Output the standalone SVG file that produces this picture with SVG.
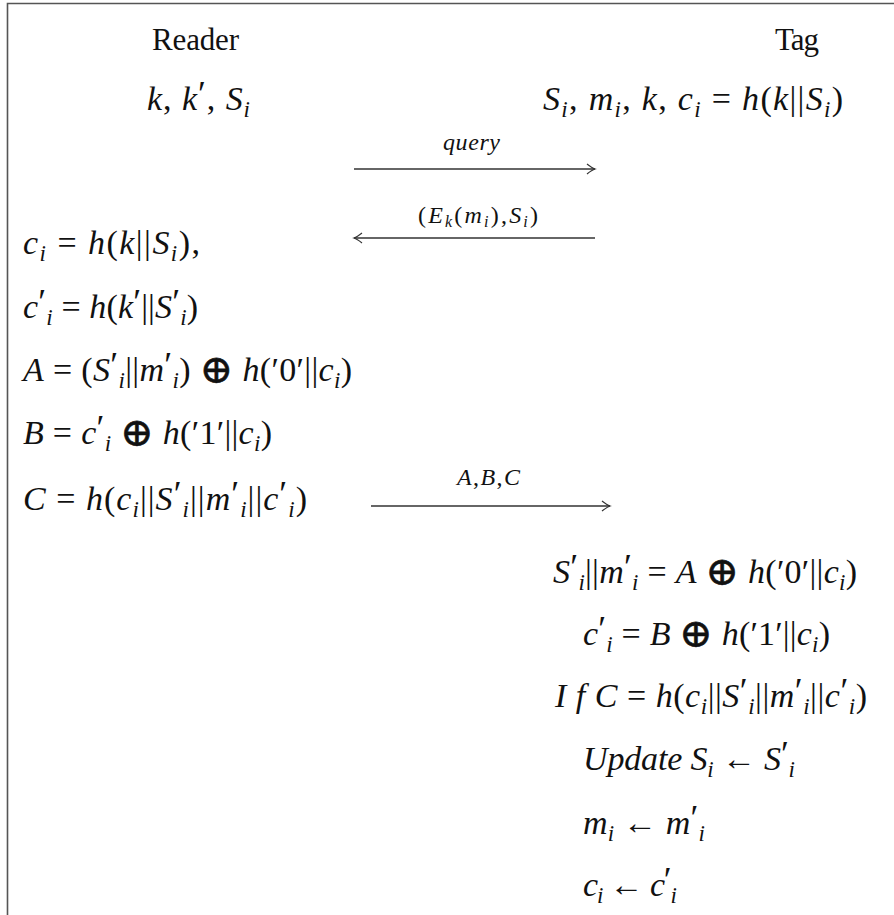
<svg xmlns="http://www.w3.org/2000/svg" width="894" height="915" viewBox="0 0 894 915">
<style>
.m{font-family:"Liberation Serif","DejaVu Serif",serif;font-size:34px;fill:#111}
.h{font-family:"Liberation Serif",serif;font-size:31px;fill:#111}
.lb{font-family:"Liberation Serif","DejaVu Serif",serif;font-size:24px;fill:#111}
.i{font-style:italic}
.sb{font-size:23px}
.ss{font-size:16px}
.pr{font-size:36px;font-style:normal}
.op{font-family:"DejaVu Serif",serif;font-size:40px;stroke:#111;stroke-width:0.6}
.ar{stroke:#333;stroke-width:1.3;fill:none}
.frame{stroke:#555;stroke-width:1.6;fill:none}
</style>
<defs>
<marker id="ah" viewBox="-10 -7 12 14" refX="0" refY="0" markerWidth="12" markerHeight="14" markerUnits="userSpaceOnUse" orient="auto">
<path d="M-8,-5 Q-3,-1 0,0 Q-3,1 -8,5" fill="none" stroke="#333" stroke-width="1.2"/>
</marker>
</defs>
<rect width="894" height="915" fill="#fff"/>
<path class="frame" d="M7.5,915 V3.5 H894"/>

<g id="reader-title"><text class="h" x="152" y="50" textLength="87">Reader</text></g>
<g id="tag-title"><text class="h" x="775" y="50" textLength="44">Tag</text></g>

<g id="reader-init"><text class="m" x="147" y="110" textLength="103"><tspan class="i">k</tspan>, <tspan class="i">k</tspan><tspan class="pr" dy="-4">′</tspan><tspan dy="4">, </tspan><tspan class="i">S</tspan><tspan class="i sb" dy="7">i</tspan></text></g>

<g id="tag-init"><text class="m" x="543" y="110" textLength="300"><tspan class="i">S</tspan><tspan class="i sb" dy="7">i</tspan><tspan dy="-7">, </tspan><tspan class="i">m</tspan><tspan class="i sb" dy="7">i</tspan><tspan dy="-7">, </tspan><tspan class="i">k</tspan>, <tspan class="i">c</tspan><tspan class="i sb" dy="7">i</tspan><tspan dy="-7"> = </tspan><tspan class="i">h</tspan>(<tspan class="i">k</tspan>||<tspan class="i">S</tspan><tspan class="i sb" dy="7">i</tspan><tspan dy="-7">)</tspan></text></g>

<g id="reader-ci"><text class="m" x="23" y="254" textLength="177"><tspan class="i">c</tspan><tspan class="i sb" dy="7">i</tspan><tspan dy="-7"> = </tspan><tspan class="i">h</tspan>(<tspan class="i">k</tspan>||<tspan class="i">S</tspan><tspan class="i sb" dy="7">i</tspan><tspan dy="-7">),</tspan></text></g>

<g id="reader-cpi"><text class="m" x="23" y="318" textLength="175"><tspan class="i">c</tspan><tspan class="pr" dy="-4">′</tspan><tspan class="i sb" dy="11">i</tspan><tspan dy="-7"> = </tspan><tspan class="i">h</tspan>(<tspan class="i">k</tspan><tspan class="pr" dy="-4">′</tspan><tspan dy="4">||</tspan><tspan class="i">S</tspan><tspan class="pr" dy="-4">′</tspan><tspan class="i sb" dy="11">i</tspan><tspan dy="-7">)</tspan></text></g>

<g id="reader-A"><text class="m" x="23" y="381" textLength="329"><tspan class="i">A</tspan> = (<tspan class="i">S</tspan><tspan class="pr" dy="-4">′</tspan><tspan class="i sb" dy="11">i</tspan><tspan dy="-7">||</tspan><tspan class="i">m</tspan><tspan class="pr" dy="-4">′</tspan><tspan class="i sb" dy="11">i</tspan><tspan dy="-7">) </tspan><tspan class="op" dy="2">⊕</tspan><tspan dy="-2"> </tspan><tspan class="i">h</tspan>(′0′||<tspan class="i">c</tspan><tspan class="i sb" dy="7">i</tspan><tspan dy="-7">)</tspan></text></g>

<g id="reader-B"><text class="m" x="23" y="444" textLength="249"><tspan class="i">B</tspan> = <tspan class="i">c</tspan><tspan class="pr" dy="-4">′</tspan><tspan class="i sb" dy="11">i</tspan><tspan dy="-7"> </tspan><tspan class="op" dy="2">⊕</tspan><tspan dy="-2"> </tspan><tspan class="i">h</tspan>(′1′||<tspan class="i">c</tspan><tspan class="i sb" dy="7">i</tspan><tspan dy="-7">)</tspan></text></g>

<g id="reader-C"><text class="m" x="23" y="510" textLength="284"><tspan class="i">C</tspan> = <tspan class="i">h</tspan>(<tspan class="i">c</tspan><tspan class="i sb" dy="7">i</tspan><tspan dy="-7">||</tspan><tspan class="i">S</tspan><tspan class="pr" dy="-4">′</tspan><tspan class="i sb" dy="11">i</tspan><tspan dy="-7">||</tspan><tspan class="i">m</tspan><tspan class="pr" dy="-4">′</tspan><tspan class="i sb" dy="11">i</tspan><tspan dy="-7">||</tspan><tspan class="i">c</tspan><tspan class="pr" dy="-4">′</tspan><tspan class="i sb" dy="11">i</tspan><tspan dy="-7">)</tspan></text></g>

<g id="tag-Sm"><text class="m" x="553" y="583" textLength="304"><tspan class="i">S</tspan><tspan class="pr" dy="-4">′</tspan><tspan class="i sb" dy="11">i</tspan><tspan dy="-7">||</tspan><tspan class="i">m</tspan><tspan class="pr" dy="-4">′</tspan><tspan class="i sb" dy="11">i</tspan><tspan dy="-7"> = </tspan><tspan class="i">A</tspan> <tspan class="op" dy="2">⊕</tspan><tspan dy="-2"> </tspan><tspan class="i">h</tspan>(′0′||<tspan class="i">c</tspan><tspan class="i sb" dy="7">i</tspan><tspan dy="-7">)</tspan></text></g>

<g id="tag-cpi"><text class="m" x="583" y="645" textLength="247"><tspan class="i">c</tspan><tspan class="pr" dy="-4">′</tspan><tspan class="i sb" dy="11">i</tspan><tspan dy="-7"> = </tspan><tspan class="i">B</tspan> <tspan class="op" dy="2">⊕</tspan><tspan dy="-2"> </tspan><tspan class="i">h</tspan>(′1′||<tspan class="i">c</tspan><tspan class="i sb" dy="7">i</tspan><tspan dy="-7">)</tspan></text></g>

<g id="tag-if"><text class="m" x="555" y="707" textLength="312"><tspan class="i">I f C</tspan> = <tspan class="i">h</tspan>(<tspan class="i">c</tspan><tspan class="i sb" dy="7">i</tspan><tspan dy="-7">||</tspan><tspan class="i">S</tspan><tspan class="pr" dy="-4">′</tspan><tspan class="i sb" dy="11">i</tspan><tspan dy="-7">||</tspan><tspan class="i">m</tspan><tspan class="pr" dy="-4">′</tspan><tspan class="i sb" dy="11">i</tspan><tspan dy="-7">||</tspan><tspan class="i">c</tspan><tspan class="pr" dy="-4">′</tspan><tspan class="i sb" dy="11">i</tspan><tspan dy="-7">)</tspan></text></g>

<g id="tag-update"><text class="m" x="583" y="770" textLength="212"><tspan class="i">Update S</tspan><tspan class="i sb" dy="7">i</tspan><tspan dy="-7"> ← </tspan><tspan class="i">S</tspan><tspan class="pr" dy="-4">′</tspan><tspan class="i sb" dy="11">i</tspan></text></g>

<g id="tag-m"><text class="m" x="583" y="834" textLength="122"><tspan class="i">m</tspan><tspan class="i sb" dy="7">i</tspan><tspan dy="-7"> ← </tspan><tspan class="i">m</tspan><tspan class="pr" dy="-4">′</tspan><tspan class="i sb" dy="11">i</tspan></text></g>

<g id="tag-c"><text class="m" x="583" y="896" textLength="94"><tspan class="i">c</tspan><tspan class="i sb" dy="7">i</tspan><tspan dy="-7"> ← </tspan><tspan class="i">c</tspan><tspan class="pr" dy="-4">′</tspan><tspan class="i sb" dy="11">i</tspan></text></g>

<g id="connectors">
<line class="ar" x1="354" y1="169" x2="595" y2="169" marker-end="url(#ah)"/>
<text class="lb i" x="443" y="150" textLength="57">query</text>
<line class="ar" x1="595" y1="238" x2="354" y2="238" marker-end="url(#ah)"/>
<text class="lb" x="418" y="223" textLength="120">(<tspan class="i">E</tspan><tspan class="i ss" dy="4">k</tspan><tspan dy="-4">(</tspan><tspan class="i">m</tspan><tspan class="i ss" dy="4">i</tspan><tspan dy="-4">),</tspan><tspan class="i">S</tspan><tspan class="i ss" dy="4">i</tspan><tspan dy="-4">)</tspan></text>
<line class="ar" x1="371" y1="506" x2="610" y2="506" marker-end="url(#ah)"/>
<text class="lb" x="457" y="485" textLength="63"><tspan class="i">A</tspan>,<tspan class="i">B</tspan>,<tspan class="i">C</tspan></text>
</g>
</svg>
